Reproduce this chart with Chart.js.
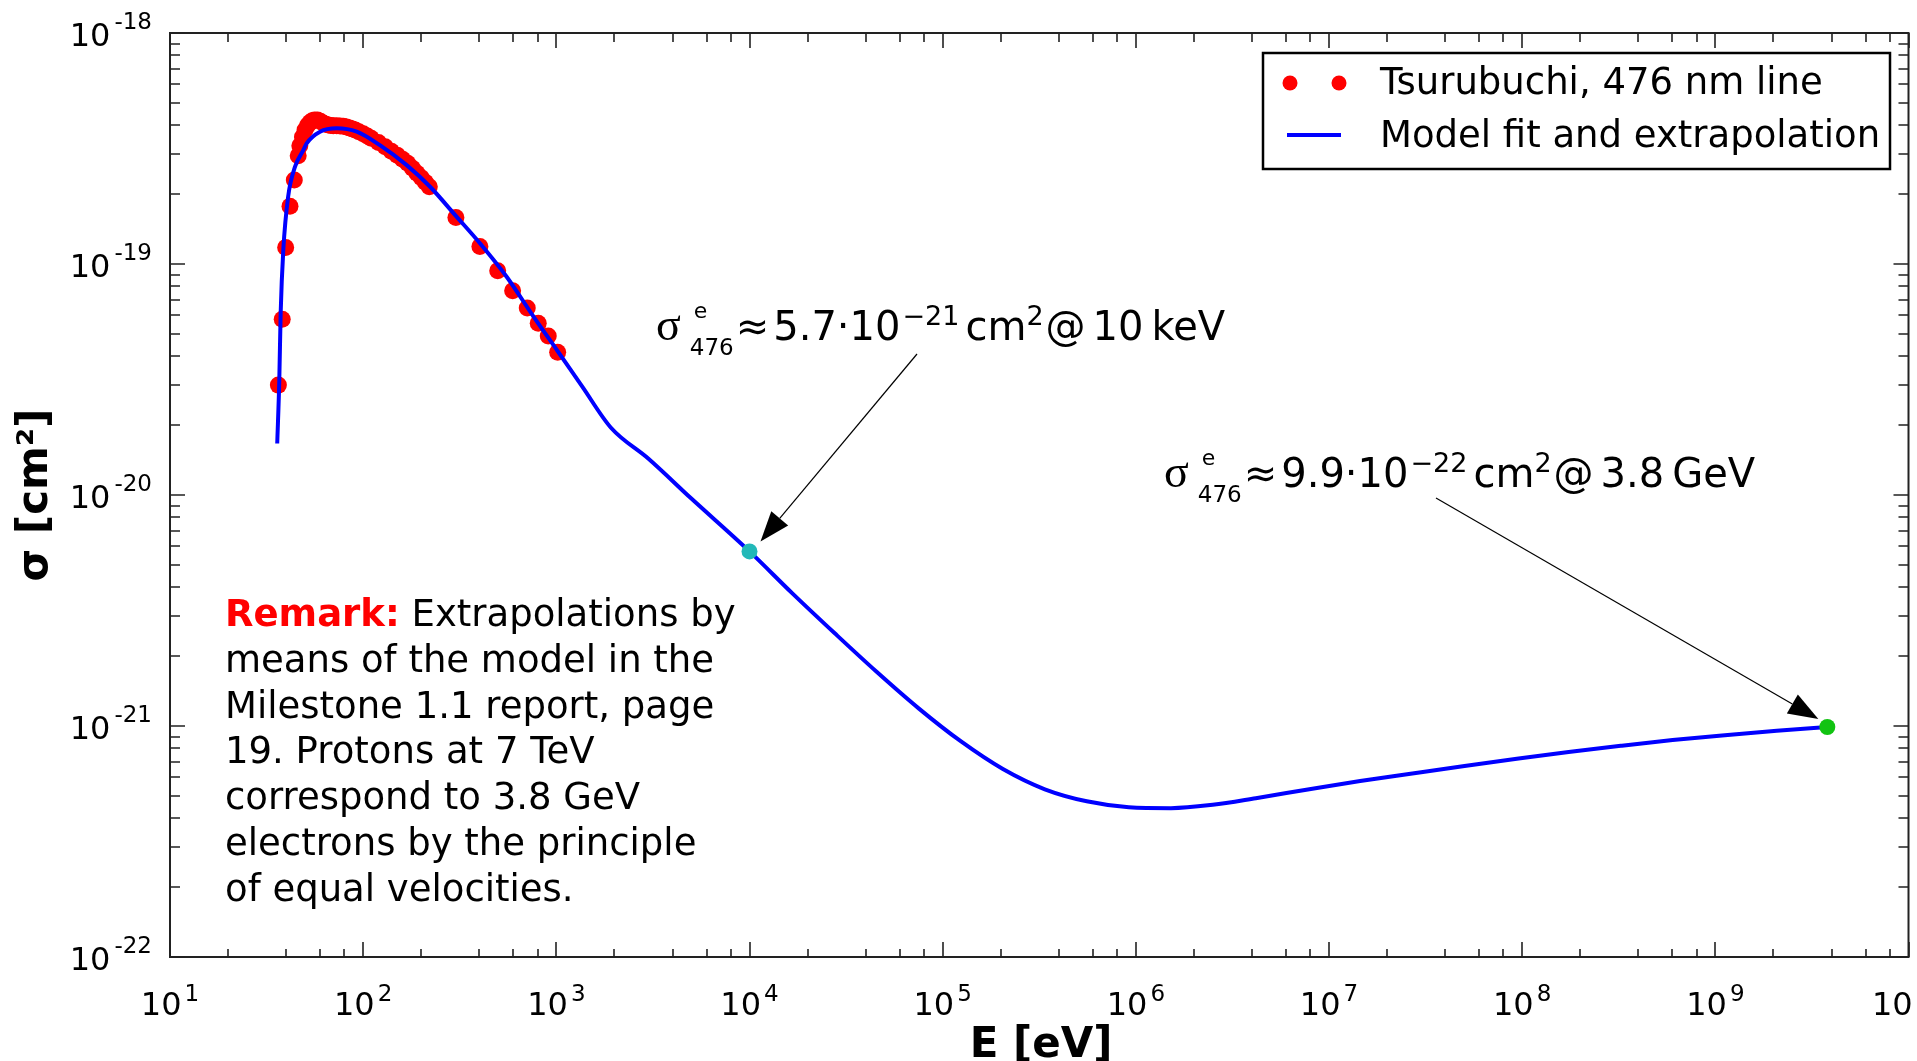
<!DOCTYPE html>
<html lang="en">
<head>
<meta charset="UTF-8">
<title>Electron excitation cross section, 476 nm line</title>
<script src="https://cdn.jsdelivr.net/npm/chart.js"></script>
<style>
  html, body { margin: 0; padding: 0; background: #fff; overflow: hidden; }
</style>
</head>
<body>
<canvas id="sigmaChart" width="1917" height="1061"></canvas>
<script>
// Tsurubuchi measurements, 476 nm line (E in eV, sigma in cm^2)
const dataEnergy = [36.4, 38.1, 39.7, 41.8, 44.0, 46.1, 47, 48.5, 50, 51.5, 53, 54.5, 56, 58, 60, 62, 64, 66, 68, 70,
  73, 76, 79, 82, 85, 88, 91, 95, 100, 105, 110, 120, 130, 140, 150, 160, 170, 180, 190, 200, 210, 220,
  302, 402, 497, 594, 707, 806, 908, 1016];
const dataSigma = [2.99e-20, 5.77e-20, 1.18e-19, 1.78e-19, 2.31e-19, 2.94e-19, 3.25e-19, 3.55e-19, 3.8e-19, 3.98e-19,
  4.1e-19, 4.17e-19, 4.2e-19, 4.2e-19, 4.15e-19, 4.08e-19, 4.03e-19, 4.0e-19, 3.98e-19, 3.97e-19,
  3.97e-19, 3.96e-19, 3.95e-19, 3.92e-19, 3.88e-19, 3.84e-19, 3.8e-19, 3.74e-19, 3.66e-19, 3.58e-19, 3.5e-19,
  3.36e-19, 3.22e-19, 3.08e-19, 2.96e-19, 2.84e-19, 2.73e-19, 2.6e-19, 2.47e-19, 2.36e-19, 2.26e-19, 2.16e-19,
  1.59e-19, 1.19e-19, 9.35e-20, 7.66e-20, 6.45e-20, 5.54e-20, 4.88e-20, 4.15e-20];

// model fit and extrapolation
const modelEnergy = [35.9, 36.8, 37.4, 38.6, 40.9, 44.4, 49.0, 51.0, 59.8, 72.9, 92.6, 122, 168, 222, 305, 402, 553, 759,
  1019, 1357, 1918, 3000, 5000, 1e4, 16670, 27540, 45500, 75100, 1.24e5, 2.05e5, 3.38e5, 5.57e5, 9.2e5,
  1.52e6, 2.5e6, 4.18e6, 7.77e6, 1.45e7, 2.70e7, 5.03e7, 9.38e7, 1.74e8, 3.24e8, 6.01e8, 1.12e9, 2.08e9, 3.8e9];
const modelSigma = [1.67e-20, 3.15e-20, 6.12e-20, 1.15e-19, 1.96e-19, 2.64e-19, 3.11e-19, 3.33e-19, 3.74e-19, 3.87e-19,
  3.74e-19, 3.27e-19, 2.68e-19, 2.16e-19, 1.60e-19, 1.23e-19, 8.81e-20, 5.95e-20, 4.18e-20, 2.96e-20, 1.955e-20,
  1.435e-20, 9.65e-21, 5.7e-21, 3.75e-21, 2.525e-21, 1.716e-21, 1.192e-21, 8.59e-22, 6.51e-22, 5.32e-22, 4.72e-22,
  4.45e-22, 4.41e-22, 4.56e-22, 4.87e-22, 5.31e-22, 5.78e-22, 6.23e-22, 6.71e-22, 7.21e-22, 7.72e-22, 8.21e-22,
  8.69e-22, 9.12e-22, 9.53e-22, 9.9e-22];

// marked extrapolation points (10 keV and 3.8 GeV)
const markEnergy = [1e4, 3.8e9];
const markSigma = [5.7e-21, 9.9e-22];
const markColors = ['#22b8b8', '#12c312'];

const xMajorTicks = [1e1, 1e2, 1e3, 1e4, 1e5, 1e6, 1e7, 1e8, 1e9, 1e10];
const xTickExponents = ['1', '2', '3', '4', '5', '6', '7', '8', '9', '10'];
const xMinorFactors = [2, 4, 6, 8];
const yMajorTicks = [1e-22, 1e-21, 1e-20, 1e-19, 1e-18];
const yTickExponents = ['-22', '-21', '-20', '-19', '-18'];
const yMinorFactors = [2, 3, 4, 5, 6, 7, 8, 9];

const legendLabels = ['Tsurubuchi, 476 nm line', 'Model fit and extrapolation'];
const remarkLines = [
  'means of the model in the',
  'Milestone 1.1 report, page',
  '19. Protons at 7 TeV',
  'correspond to 3.8 GeV',
  'electrons by the principle',
  'of equal velocities.'
];

const SANS = '"DejaVu Sans", "Noto Sans", sans-serif';
const SERIF = '"Liberation Serif", "DejaVu Serif", serif';

function toPoints(xs, ys) {
  return xs.map((x, i) => ({ x: x, y: ys[i] }));
}

function arrow(ctx, x1, y1, x2, y2) {
  const ang = Math.atan2(y2 - y1, x2 - x1);
  const len = 30, half = 11;
  const bx = x2 - len * Math.cos(ang), by = y2 - len * Math.sin(ang);
  ctx.strokeStyle = '#000';
  ctx.fillStyle = '#000';
  ctx.lineWidth = 1.2;
  ctx.beginPath();
  ctx.moveTo(x1, y1);
  ctx.lineTo(bx, by);
  ctx.stroke();
  ctx.beginPath();
  ctx.moveTo(x2, y2);
  ctx.lineTo(bx + half * Math.sin(ang), by - half * Math.cos(ang));
  ctx.lineTo(bx - half * Math.sin(ang), by + half * Math.cos(ang));
  ctx.closePath();
  ctx.fill();
}

// sigma^e_476 ≈ m·10^exp cm² @ energy unit
function sigmaNote(ctx, x, y, mant, exp, energy, unit) {
  ctx.fillStyle = '#000';
  ctx.textAlign = 'left';
  ctx.textBaseline = 'alphabetic';
  ctx.font = '46px ' + SERIF;
  ctx.fillText('σ', x, y);
  x += ctx.measureText('σ').width + 9;
  ctx.font = '22px ' + SANS;
  ctx.fillText('e', x + 4, y - 22);
  ctx.font = '23px ' + SANS;
  ctx.fillText('476', x, y + 15);
  x += ctx.measureText('476').width + 2;
  const pieces = [
    ['≈', 40, 0, 4], [mant + '·10', 40, 0, 2], ['−' + exp, 27, -15, 6],
    ['cm', 40, 0, 0], ['2', 27, -15, 2], ['@', 40, 0, 7], [energy, 40, 0, 8], [unit, 40, 0, 0]
  ];
  pieces.forEach(p => {
    ctx.font = p[1] + 'px ' + SANS;
    ctx.fillText(p[0], x, y + p[2]);
    x += ctx.measureText(p[0]).width + p[3];
  });
}

const decorPlugin = {
  id: 'decor',
  afterDraw(chart) {
    const ctx = chart.ctx;
    const a = chart.chartArea;
    const xs = chart.scales.x, ys = chart.scales.y;
    ctx.save();

    // frame
    ctx.strokeStyle = '#222';
    ctx.lineWidth = 2;
    ctx.strokeRect(a.left, a.top, a.right - a.left, a.bottom - a.top);

    // inward ticks on all four sides
    ctx.beginPath();
    xMajorTicks.forEach((v, i) => {
      const px = Math.round(xs.getPixelForValue(v));
      ctx.moveTo(px, a.bottom); ctx.lineTo(px, a.bottom - 15);
      ctx.moveTo(px, a.top); ctx.lineTo(px, a.top + 15);
      if (i < xMajorTicks.length - 1) {
        xMinorFactors.forEach(f => {
          const pm = Math.round(xs.getPixelForValue(v * f));
          ctx.moveTo(pm, a.bottom); ctx.lineTo(pm, a.bottom - 8);
          ctx.moveTo(pm, a.top); ctx.lineTo(pm, a.top + 9);
        });
      }
    });
    yMajorTicks.forEach((v, i) => {
      const py = Math.round(ys.getPixelForValue(v));
      ctx.moveTo(a.left, py); ctx.lineTo(a.left + 15, py);
      ctx.moveTo(a.right, py); ctx.lineTo(a.right - 15, py);
      if (i < yMajorTicks.length - 1) {
        yMinorFactors.forEach(f => {
          const pm = Math.round(ys.getPixelForValue(v * f));
          ctx.moveTo(a.left, pm); ctx.lineTo(a.left + 10, pm);
          ctx.moveTo(a.right, pm); ctx.lineTo(a.right - 10, pm);
        });
      }
    });
    ctx.lineWidth = 1.6;
    ctx.stroke();

    // tick labels
    ctx.fillStyle = '#000';
    ctx.textBaseline = 'alphabetic';
    yMajorTicks.forEach((v, i) => {
      const py = ys.getPixelForValue(v);
      ctx.textAlign = 'right';
      ctx.font = '23px ' + SANS;
      const sw = ctx.measureText(yTickExponents[i]).width;
      ctx.fillText(yTickExponents[i], a.left - 18, py - 4.5);
      ctx.font = '32px ' + SANS;
      ctx.fillText('10', a.left - 18 - sw - 4, py + 12.5);
    });
    ctx.textAlign = 'left';
    xMajorTicks.forEach((v, i) => {
      const px = xs.getPixelForValue(v);
      ctx.font = '32px ' + SANS;
      const w10 = ctx.measureText('10').width;
      ctx.font = '23px ' + SANS;
      const sw = ctx.measureText(xTickExponents[i]).width;
      const x0 = px - (w10 + 3 + sw) / 2;
      ctx.fillText(xTickExponents[i], x0 + w10 + 3, 1001);
      ctx.font = '32px ' + SANS;
      ctx.fillText('10', x0, 1015);
    });

    // axis titles
    ctx.font = 'bold 42px ' + SANS;
    ctx.textAlign = 'center';
    ctx.fillText('E [eV]', 1041, 1057);
    ctx.save();
    ctx.translate(47, (a.top + a.bottom) / 2);
    ctx.rotate(-Math.PI / 2);
    ctx.fillText('σ [cm²]', 0, 0);
    ctx.restore();

    // legend
    ctx.fillStyle = '#fff';
    ctx.fillRect(1263, 53, 627, 116);
    ctx.strokeStyle = '#000';
    ctx.lineWidth = 2.5;
    ctx.strokeRect(1263, 53, 627, 116);
    ctx.fillStyle = chart.data.datasets[1].backgroundColor;
    [1290, 1339].forEach(cx => {
      ctx.beginPath();
      ctx.arc(cx, 83, 7.5, 0, Math.PI * 2);
      ctx.fill();
    });
    ctx.strokeStyle = chart.data.datasets[0].borderColor;
    ctx.lineWidth = 4;
    ctx.beginPath();
    ctx.moveTo(1287, 135); ctx.lineTo(1341, 135);
    ctx.stroke();
    ctx.fillStyle = '#000';
    ctx.textAlign = 'left';
    ctx.font = '37px ' + SANS;
    ctx.fillText(legendLabels[0], 1380, 94);
    ctx.fillText(legendLabels[1], 1380, 147);

    // remark
    ctx.font = 'bold 37px ' + SANS;
    ctx.fillStyle = '#ff0000';
    ctx.fillText('Remark:', 225, 626);
    const rw = ctx.measureText('Remark:').width;
    ctx.font = '37px ' + SANS;
    ctx.fillStyle = '#000';
    ctx.fillText(' Extrapolations by', 225 + rw, 626);
    remarkLines.forEach((line, i) => ctx.fillText(line, 225, 626 + 45.8 * (i + 1)));

    // annotations with arrows to the marked points
    sigmaNote(ctx, 656, 340, '5.7', '21', '10', 'keV');
    sigmaNote(ctx, 1164, 487, '9.9', '22', '3.8', 'GeV');
    const m1x = xs.getPixelForValue(markEnergy[0]), m1y = ys.getPixelForValue(markSigma[0]);
    const m2x = xs.getPixelForValue(markEnergy[1]), m2y = ys.getPixelForValue(markSigma[1]);
    arrow(ctx, 917, 354, m1x + 11, m1y - 10);
    arrow(ctx, 1436, 498, m2x - 9, m2y - 8);

    ctx.restore();
  }
};

new Chart(document.getElementById('sigmaChart'), {
  type: 'scatter',
  data: {
    datasets: [
      {
        label: legendLabels[1],
        data: toPoints(modelEnergy, modelSigma),
        showLine: true,
        borderColor: '#0000ff',
        borderWidth: 4,
        pointRadius: 0,
        cubicInterpolationMode: 'monotone',
        order: 1
      },
      {
        label: legendLabels[0],
        data: toPoints(dataEnergy, dataSigma),
        pointRadius: 8.5,
        backgroundColor: '#ff0000',
        borderColor: '#ff0000',
        borderWidth: 0,
        order: 2
      },
      {
        label: 'marks',
        data: toPoints(markEnergy, markSigma),
        pointRadius: 8,
        backgroundColor: markColors,
        borderColor: markColors,
        borderWidth: 0,
        order: 0
      }
    ]
  },
  options: {
    responsive: false,
    animation: false,
    devicePixelRatio: 1,
    layout: { padding: { top: 33, right: 8, left: 0, bottom: 0 } },
    plugins: { legend: { display: false }, tooltip: { enabled: false } },
    scales: {
      x: {
        type: 'logarithmic', min: 1e1, max: 1e10,
        ticks: { display: false }, grid: { display: false }, border: { display: false },
        afterFit: s => { s.height = 104; }
      },
      y: {
        type: 'logarithmic', min: 1e-22, max: 1e-18,
        ticks: { display: false }, grid: { display: false }, border: { display: false },
        afterFit: s => { s.width = 170; }
      }
    }
  },
  plugins: [decorPlugin]
});
</script>
</body>
</html>
